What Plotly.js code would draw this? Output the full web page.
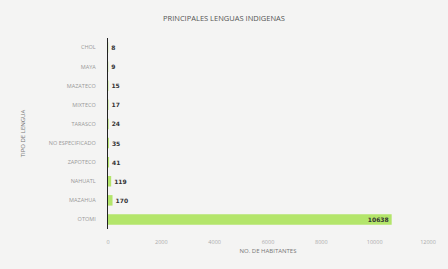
<!DOCTYPE html>
<html><head><meta charset="utf-8">
<script src="https://cdn.plot.ly/plotly-3.0.1.min.js"></script>
<style>html,body{margin:0;padding:0;background:#f4f4f3;}#chart{width:448px;height:269px;}</style>
</head><body><div id="chart"></div>
<script>
const lenguas = ["CHOL","MAYA","MAZATECO","MIXTECO","TARASCO","NO ESPECIFICADO","ZAPOTECO","NAHUATL","MAZAHUA","OTOMI"];
const habitantes = [8, 9, 15, 17, 24, 35, 41, 119, 170, 10638];
const xTicks = [0, 2000, 4000, 6000, 8000, 10000, 12000];

const positions = habitantes.map(v => v > 5000 ? 'inside' : 'outside');

Plotly.newPlot('chart', [{
  type: 'bar',
  orientation: 'h',
  x: habitantes,
  y: lenguas,
  text: habitantes.map(String),
  textposition: positions,
  insidetextanchor: 'end',
  cliponaxis: false,
  textfont: {family: 'DejaVu Sans', size: 6, color: '#333333', weight: 'bold'},
  marker: {color: '#b3e56a'},
  width: 0.55,
  hoverinfo: 'none'
}], {
  width: 448, height: 269,
  margin: {l: 108, r: 20, t: 38, b: 40},
  paper_bgcolor: '#f4f4f3',
  plot_bgcolor: '#f4f4f3',
  showlegend: false,
  uniformtext: {mode: 'show', minsize: 6},
  title: {text: 'PRINCIPALES LENGUAS INDIGENAS', font: {family: 'Open Sans', size: 7.5, color: '#555555'}, x: 0.5, xanchor: 'center', y: 0.93, yanchor: 'middle'},
  xaxis: {
    range: [0, 12000], tickvals: xTicks, ticktext: xTicks.map(String),
    showgrid: false, zeroline: false, showline: false, ticks: '',
    tickfont: {family: 'Open Sans', size: 5.5, color: '#aaaaaa'},
    ticklabelstandoff: 8,
    title: {text: 'NO. DE HABITANTES', font: {family: 'Open Sans', size: 6, color: '#777777'}, standoff: 4}
  },
  yaxis: {
    autorange: 'reversed', showgrid: false, zeroline: false,
    showline: true, linecolor: '#222222', linewidth: 1.2, ticks: '',
    tickfont: {family: 'Open Sans', size: 5.5, color: '#999999'},
    ticklabelstandoff: 10,
    title: {text: 'TIPO DE LENGUA', font: {family: 'Open Sans', size: 6, color: '#777777'}, standoff: 22}
  }
}, {staticPlot: true, displayModeBar: false});
</script></body></html>
